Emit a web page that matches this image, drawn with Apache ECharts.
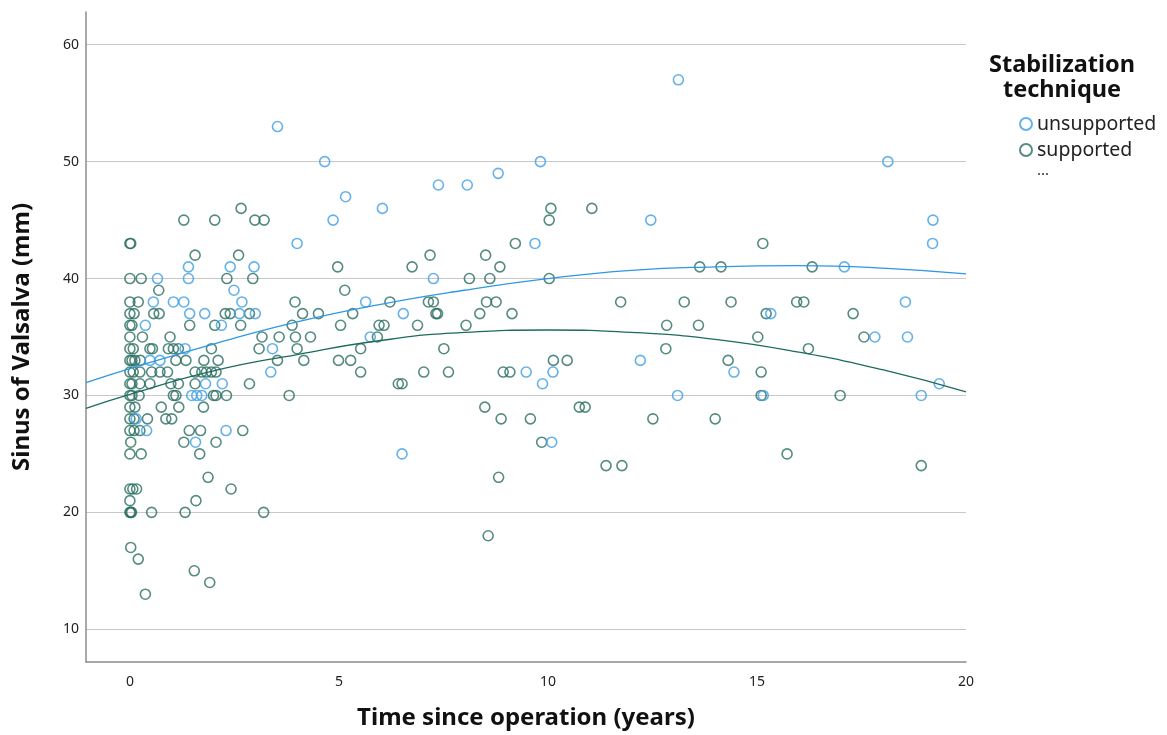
<!DOCTYPE html>
<html>
<head>
<meta charset="utf-8">
<title>Sinus of Valsalva vs time since operation</title>
<script src="https://cdn.jsdelivr.net/npm/echarts@6/dist/echarts.min.js"></script>
<style>
  html, body { margin: 0; padding: 0; background: #fff; }
  #chart { width: 1167px; height: 735px; }
</style>
</head>
<body>
<div id="chart"></div>
<script>
// values: [years, mm]
const unsupported = [
  [0.37, 36], [0.40, 27], [0.15, 28], [0.48, 33], [0.56, 38], [0.66, 40], [0.72, 33], [1.04, 38],
  [1.29, 38], [1.32, 34], [1.40, 40], [1.40, 41], [1.43, 37], [1.48, 30], [1.57, 26], [1.60, 30],
  [1.72, 30], [1.79, 37], [1.81, 31], [2.19, 36], [2.21, 31], [2.30, 27], [2.40, 41], [2.49, 39],
  [2.62, 37], [2.68, 38], [2.97, 41], [3.00, 37], [3.37, 32], [3.41, 34], [3.53, 53], [4.00, 43],
  [4.66, 50], [4.86, 45], [5.16, 47], [5.64, 38], [5.75, 35], [6.04, 46], [6.51, 25], [6.54, 37],
  [7.26, 40], [7.38, 48], [8.07, 48], [8.81, 49], [9.48, 32], [9.69, 43], [9.82, 50], [9.87, 31],
  [10.09, 26], [10.12, 32], [12.21, 33], [12.46, 45], [13.10, 30], [13.12, 57], [14.45, 32], [15.15, 30],
  [15.33, 37], [17.09, 41], [17.82, 35], [18.13, 50], [18.55, 38], [18.60, 35], [18.93, 30], [19.20, 43],
  [19.21, 45], [19.36, 31]
];

const supported = [
  // column right after the operation
  [0.00, 43], [0.02, 43], [0.00, 40], [0.27, 40], [0.00, 38], [0.20, 38], [0.00, 37], [0.10, 37],
  [0.00, 36], [0.05, 36], [0.00, 35], [0.30, 35], [0.00, 34], [0.08, 34], [0.00, 33], [0.05, 33],
  [0.12, 33], [0.25, 33], [0.00, 32], [0.08, 32], [0.24, 32], [0.00, 31], [0.05, 31], [0.24, 31],
  [0.00, 30], [0.05, 30], [0.22, 30], [0.00, 29], [0.12, 29], [0.00, 28], [0.10, 28], [0.00, 27],
  [0.10, 27], [0.24, 27], [0.02, 26], [0.00, 25], [0.27, 25], [0.00, 22], [0.07, 22], [0.16, 22],
  [0.00, 21], [0.00, 20], [0.02, 20], [0.04, 20], [0.02, 17], [0.20, 16], [0.37, 13],
  // later follow-up
  [2.66, 46], [10.07, 46], [11.05, 46],
  [1.29, 45], [2.03, 45], [2.99, 45], [3.21, 45], [10.03, 45],
  [9.22, 43], [15.14, 43],
  [1.56, 42], [2.60, 42], [7.18, 42], [8.51, 42],
  [4.97, 41], [6.75, 41], [8.85, 41], [13.63, 41], [14.14, 41], [16.32, 41],
  [2.32, 40], [2.94, 40], [8.12, 40], [8.61, 40], [10.03, 40],
  [0.69, 39], [5.14, 39],
  [3.95, 38], [6.22, 38], [7.14, 38], [7.26, 38], [8.53, 38], [8.76, 38], [11.74, 38], [13.26, 38],
  [14.38, 38], [15.95, 38], [16.12, 38],
  [0.57, 37], [0.70, 37], [2.28, 37], [2.40, 37], [2.86, 37], [4.13, 37], [4.51, 37], [5.33, 37],
  [7.32, 37], [7.36, 37], [8.37, 37], [9.14, 37], [15.22, 37], [17.30, 37],
  [1.43, 36], [2.03, 36], [2.65, 36], [3.88, 36], [5.04, 36], [5.96, 36], [6.08, 36], [6.88, 36],
  [8.04, 36], [12.84, 36], [13.60, 36],
  [0.96, 35], [3.16, 35], [3.57, 35], [3.96, 35], [4.32, 35], [5.92, 35], [15.02, 35], [17.56, 35],
  [0.48, 34], [0.54, 34], [0.92, 34], [1.04, 34], [1.16, 34], [1.95, 34], [3.09, 34], [4.00, 34],
  [5.52, 34], [7.51, 34], [12.82, 34], [16.23, 34],
  [1.10, 33], [1.34, 33], [1.77, 33], [2.11, 33], [3.53, 33], [4.16, 33], [4.99, 33], [5.28, 33],
  [10.13, 33], [10.46, 33], [14.31, 33],
  [0.52, 32], [0.72, 32], [0.90, 32], [1.56, 32], [1.72, 32], [1.83, 32], [1.95, 32], [2.06, 32],
  [5.52, 32], [7.03, 32], [7.62, 32], [8.93, 32], [9.09, 32], [15.10, 32],
  [0.48, 31], [0.98, 31], [1.16, 31], [1.56, 31], [2.86, 31], [6.42, 31], [6.51, 31],
  [1.04, 30], [1.10, 30], [2.00, 30], [2.06, 30], [2.31, 30], [3.81, 30], [15.10, 30], [16.99, 30],
  [0.75, 29], [1.17, 29], [1.76, 29], [8.49, 29], [10.75, 29], [10.89, 29],
  [0.42, 28], [0.86, 28], [1.00, 28], [8.88, 28], [9.58, 28], [12.51, 28], [14.00, 28],
  [1.42, 27], [1.69, 27], [2.70, 27],
  [1.29, 26], [2.06, 26], [9.85, 26],
  [1.67, 25], [15.72, 25],
  [11.39, 24], [11.77, 24], [18.93, 24],
  [1.87, 23], [8.82, 23],
  [2.42, 22], [1.58, 21],
  [0.52, 20], [1.32, 20], [3.20, 20],
  [8.57, 18], [1.54, 15], [1.91, 14]
];

// quadratic fit lines at regular x positions
const fitUnsupported = [
  [-1.05, 31.1], [0, 32.3], [2, 34.4], [4, 36.3], [6, 37.8], [8, 39.0], [10, 40.0],
  [12, 40.7], [14, 41.0], [16, 41.1], [18, 40.9], [20, 40.4]
];
const fitSupported = [
  [-1.05, 28.9], [0, 30.1], [2, 32.1], [4, 33.5], [6, 34.7], [8, 35.4], [10, 35.6],
  [12, 35.4], [14, 34.8], [16, 33.7], [18, 32.2], [20, 30.3]
];

const xTicks = [0, 5, 10, 15, 20];
const yTicks = [10, 20, 30, 40, 50, 60];

const BLUE = "#3f9fe6";
const GREEN = "#2b6e61";
const FONT = "'Noto Sans', 'DejaVu Sans', sans-serif";

const chart = echarts.init(document.getElementById("chart"), null, { renderer: "canvas" });

chart.setOption({
  animation: false,
  backgroundColor: "#ffffff",
  grid: { left: 86, right: 201, top: 12, bottom: 69, containLabel: false },
  xAxis: {
    type: "value",
    min: -1.05,
    max: 20,
    name: "Time since operation (years)",
    nameLocation: "middle",
    nameGap: 44,
    nameTextStyle: { fontFamily: FONT, fontSize: 24, fontWeight: "bold", color: "#111" },
    axisLine: { show: true, onZero: false, lineStyle: { color: "#8c8c8c", width: 1.5 } },
    axisTick: { show: false, customValues: xTicks },
    axisLabel: { customValues: xTicks, fontFamily: FONT, fontSize: 14, color: "#222", margin: 13 },
    splitLine: { show: false }
  },
  yAxis: {
    type: "value",
    min: 7.2,
    max: 62.8,
    name: "Sinus of Valsalva (mm)",
    nameLocation: "middle",
    nameGap: 52,
    nameTextStyle: { fontFamily: FONT, fontSize: 24, fontWeight: "bold", color: "#111" },
    axisLine: { show: true, onZero: false, lineStyle: { color: "#8c8c8c", width: 1.5 } },
    axisTick: { show: false, customValues: yTicks },
    axisLabel: { customValues: yTicks, fontFamily: FONT, fontSize: 14, color: "#222", margin: 7 },
    splitLine: { show: true, lineStyle: { color: "#c8c8c8", width: 1.2 } }
  },
  legend: {
    data: ["unsupported", "supported"],
    orient: "vertical",
    left: 1014,
    top: 109,
    itemWidth: 12,
    itemHeight: 12,
    itemGap: 6,
    textStyle: { fontFamily: FONT, fontSize: 19.5, color: "#222" }
  },
  graphic: [
    {
      type: "text", left: 1062 - 80, top: 53,
      style: {
        text: "Stabilization\ntechnique", fill: "#111", font: "bold 23.5px " + FONT,
        textAlign: "center", lineHeight: 25, width: 160
      }
    },
    {
      type: "text", left: 1037, top: 163,
      style: { text: "...", fill: "#333", font: "15px " + FONT }
    }
  ],
  series: [
    {
      name: "unsupported",
      type: "scatter",
      data: unsupported,
      symbol: "circle",
      symbolSize: 10,
      itemStyle: { color: "rgba(0,0,0,0)", borderColor: BLUE, borderWidth: 1.6 },
      z: 3
    },
    {
      name: "supported",
      type: "scatter",
      data: supported,
      symbol: "circle",
      symbolSize: 10,
      itemStyle: { color: "rgba(0,0,0,0)", borderColor: GREEN, borderWidth: 1.6 },
      z: 2
    },
    {
      name: "fit unsupported",
      type: "line",
      data: fitUnsupported,
      smooth: true,
      showSymbol: false,
      lineStyle: { color: "#2f98e2", width: 1.3 },
      z: 4
    },
    {
      name: "fit supported",
      type: "line",
      data: fitSupported,
      smooth: true,
      showSymbol: false,
      lineStyle: { color: "#1d6b5d", width: 1.3 },
      z: 4
    }
  ]
});
</script>
</body>
</html>
